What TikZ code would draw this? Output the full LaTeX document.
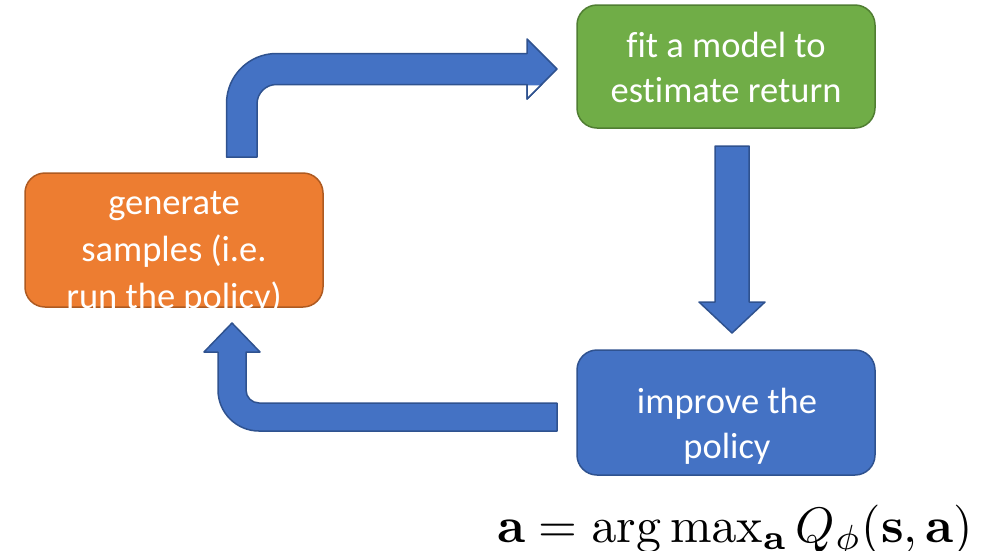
\documentclass[tikz,border=0pt]{standalone}
\usepackage[no-math]{fontspec}
\setmainfont{Carlito}[Ligatures=CommonOff]
\definecolor{orangeF}{HTML}{ED7D31}
\definecolor{orangeD}{HTML}{AE5A21}
\definecolor{greenF}{HTML}{70AD47}
\definecolor{greenD}{HTML}{507E32}
\definecolor{blueF}{HTML}{4472C4}
\definecolor{blueD}{HTML}{2F528F}
\begin{document}
\begin{tikzpicture}[x=1pt,y=-1pt,
  box/.style={draw, line width=1.5pt, rounded corners=20pt, inner sep=0pt, minimum width=298pt},
  blockarrow/.style={fill=blueF, draw=blueD, line width=1.5pt, line join=round},
  lbl/.style={text=white, inner sep=0pt, anchor=base},
  lblfont/.style={font=\fontsize{36.5}{45}\selectfont}]
\useasboundingbox (0,0) rectangle (984,550);
% boxes
\node[box, fill=orangeF, draw=orangeD, minimum height=134pt] (gen) at (174,240) {};
\node[box, fill=greenF, draw=greenD, minimum height=123pt] (fit) at (726,66.5) {};
\node[box, fill=blueF, draw=blueD, minimum height=125pt] (imp) at (726,412.5) {};
% top bent arrow
\draw[blockarrow] (226.5,157) -- (226.5,103.5)
  .. controls (226.5,75.9) and (248.9,53.5) .. (276.5,53.5)
  -- (527,53.5) -- (527,39) -- (557,69) -- (527,99) -- (527,84.5)
  -- (276.5,84.5) .. controls (265.7,84.5) and (257,93.2) .. (257,104)
  -- (257,157) -- cycle;
\fill[white] (527.8,85.3) -- (541.2,85.3) -- (527.8,98.2) -- cycle;
\draw[blueD, line width=1.5pt, line join=round] (527,84.5) -- (527,99) -- (542,84);
% down arrow
\draw[blockarrow] (715,146) -- (749,146) -- (749,302) -- (765,302) -- (732,333)
  -- (699,302) -- (715,302) -- cycle;
% bottom bent arrow
\draw[blockarrow] (232,323) -- (260,352) -- (246,352) -- (246,390)
  .. controls (246,397.2) and (251.8,403) .. (259,403)
  -- (557,403) -- (557,431) -- (259,431)
  .. controls (236.4,431) and (218,412.6) .. (218,390)
  -- (218,352) -- (204,352) -- cycle;
% labels
\node[lbl, font=\fontsize{36.5}{47}\selectfont] (gentext) at (174,214)
  {\begin{tabular}[t]{@{}c@{}}generate\\samples (i.e.\\run the policy)\end{tabular}};
\node[lbl, lblfont] (fittext) at (726,57)
  {\begin{tabular}[t]{@{}c@{}}fit a model to\\estimate return\end{tabular}};
\node[lbl, lblfont] (imptext) at (727,413)
  {\begin{tabular}[t]{@{}c@{}}improve the\\policy\end{tabular}};
% formula
\node[inner sep=0pt, anchor=base west] (formula) at (497,542)
  {\resizebox{476pt}{!}{$\mathbf{a} = \arg\max_{\mathbf{a}} Q_\phi(\mathbf{s},\mathbf{a})$}};
\end{tikzpicture}
\end{document}
